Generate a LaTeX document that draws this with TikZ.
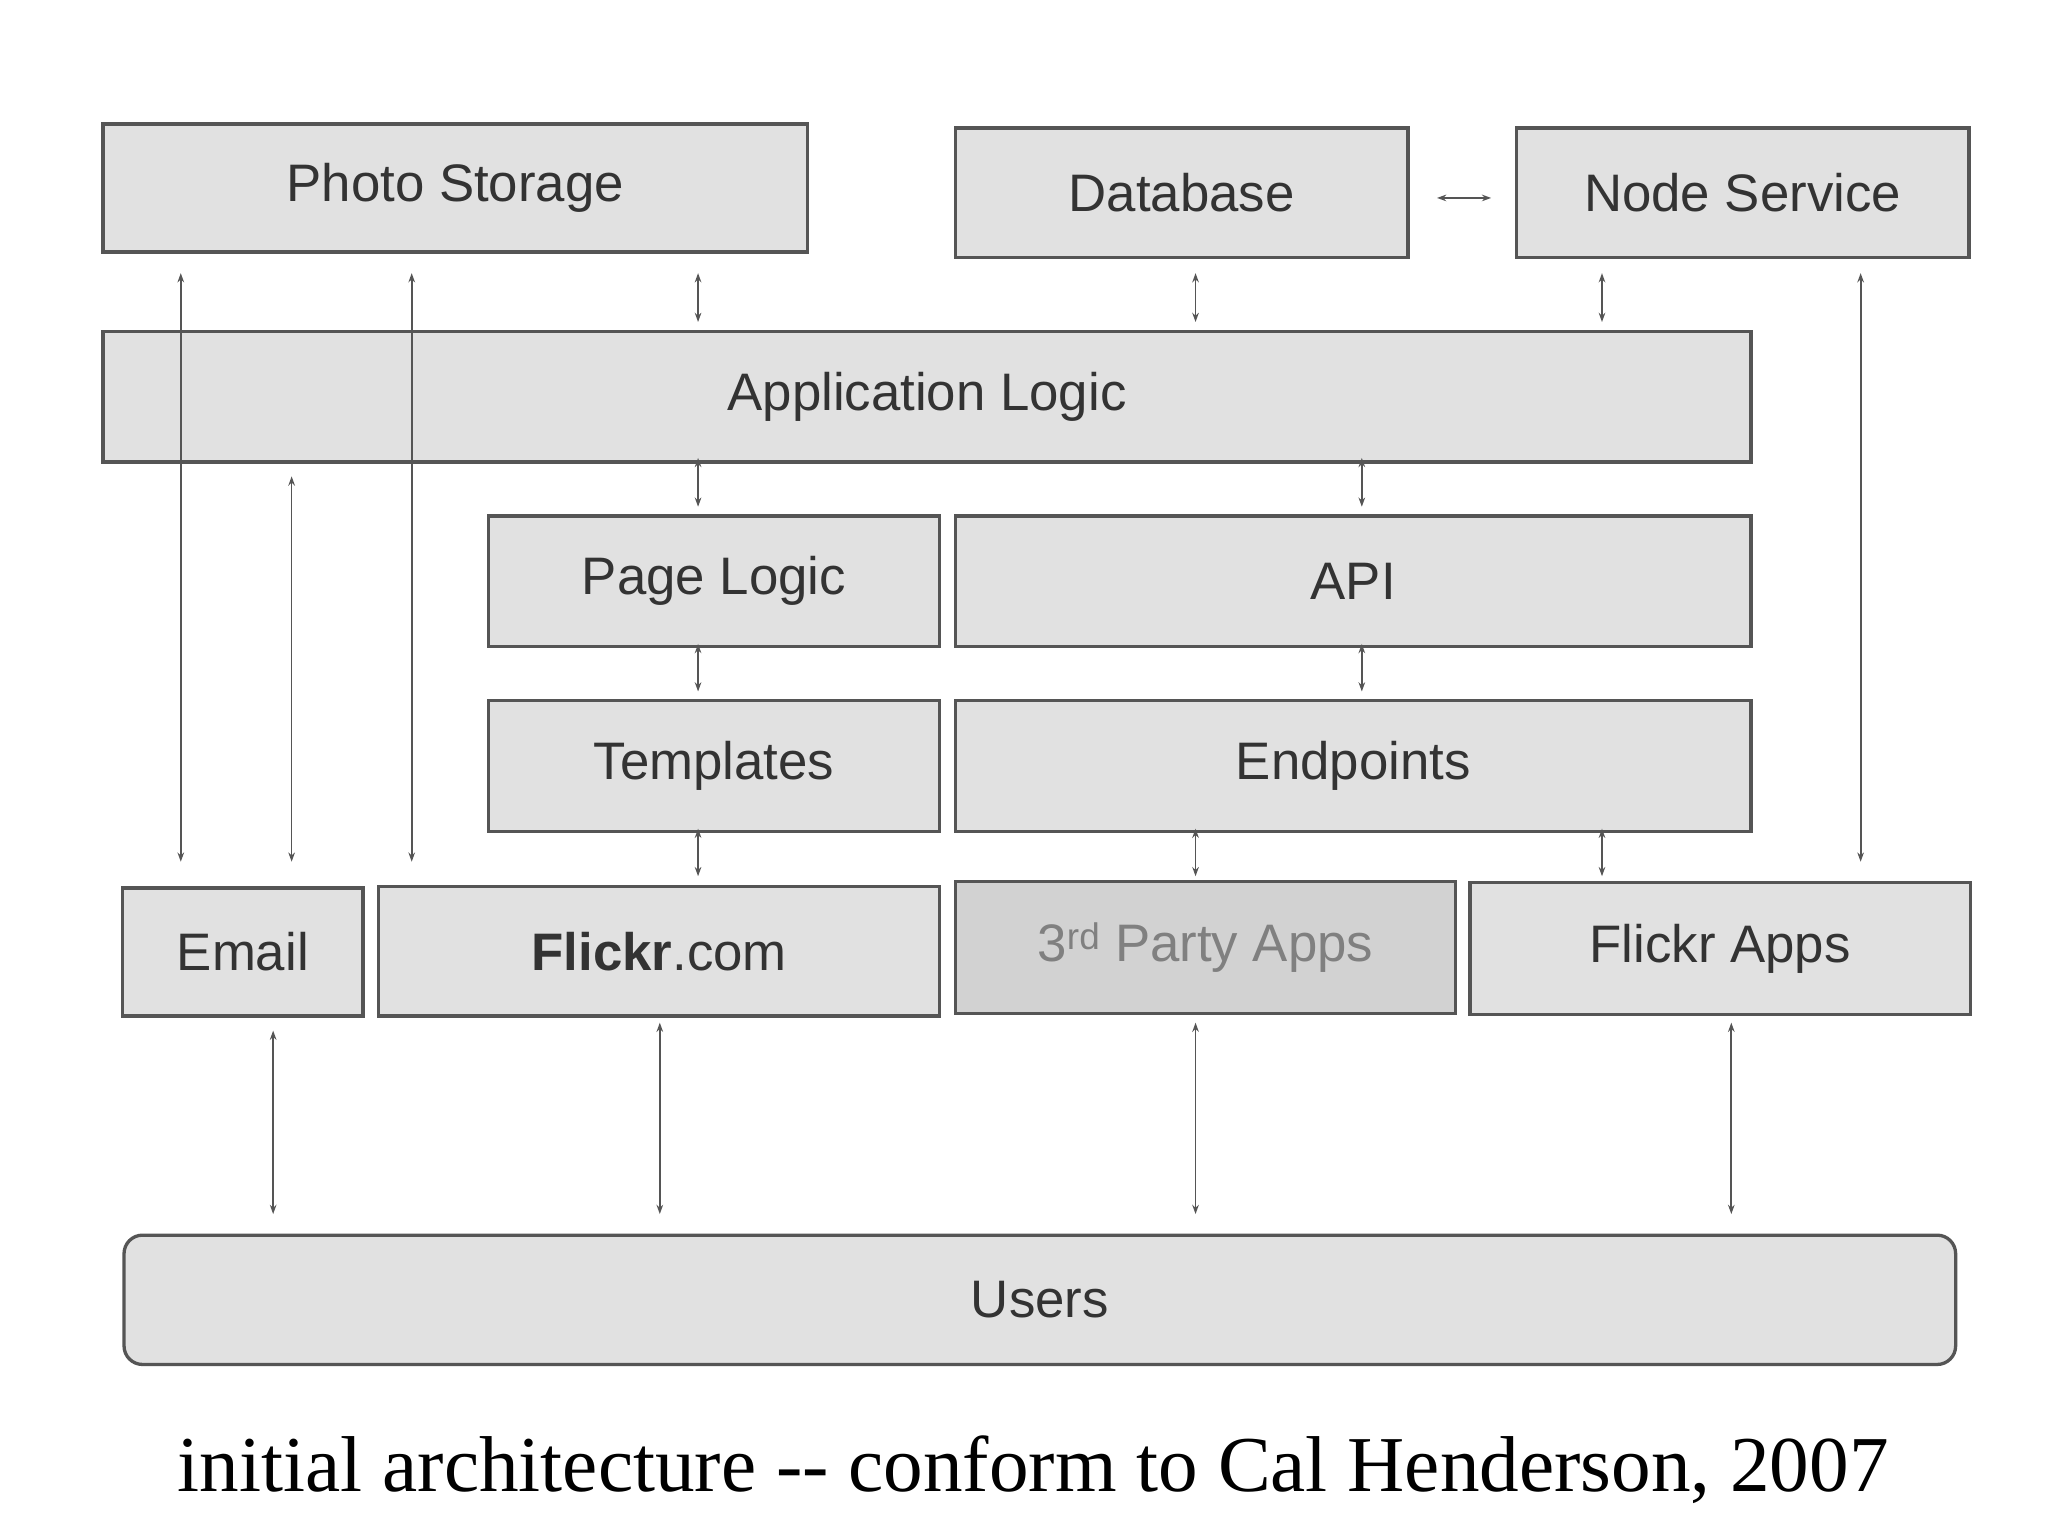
\documentclass[tikz,border=0pt]{standalone}
\usepackage{fontspec}
\setmainfont{Liberation Sans}
\newfontfamily\capfont{Liberation Serif}
\usetikzlibrary{arrows.meta}
\definecolor{bx}{HTML}{E1E1E1}
\definecolor{bxd}{HTML}{D2D2D2}
\definecolor{ln}{HTML}{555555}
\definecolor{tx}{HTML}{333333}
\begin{document}
\begin{tikzpicture}[x=1pt,y=-1pt,
  box/.style={draw=ln,fill=bx,line width=2.5pt,text=tx,font=\fontsize{40}{44}\selectfont},
  arr/.style={draw=ln,line width=1.3pt,{Stealth[length=7pt,width=5pt]}-{Stealth[length=7pt,width=5pt]}}]
\useasboundingbox[fill=white] (0,0) rectangle (1552,1164);
\newcommand\bx[6][]{\draw[box,#1] (#2,#3) rectangle (#4,#5) node[midway] {#6};}
\bx{78}{94}{612}{191}{Photo Storage}
\bx{724}{97}{1067}{195}{Database}
\bx{1149}{97}{1492}{195}{Node Service}
\bx{78}{251}{1327}{350}{Application Logic}
\bx{370}{391}{712}{490}{Page Logic}
\bx{724}{391}{1327}{490}{API}
\bx{370}{531}{712}{630}{Templates}
\bx{724}{531}{1327}{630}{Endpoints}
\bx{93}{673}{275}{770}{Email}
\bx{287}{672}{712}{770}{\textbf{Flickr}.com}
\bx[fill=bxd,text=gray]{724}{668}{1103}{768}{3\textsuperscript{rd} Party Apps}
\bx{1114}{669}{1493}{769}{Flickr Apps}
\draw[box,rounded corners=14pt] (94,936) rectangle (1482,1034) node[midway]{Users};
\foreach \x/\a/\b in {137/207/653,221/361/653,312/207/653,1410/207/653,
  529/207/244,529/347/384,529/488/524,529/628/664,
  906/207/244,906/628/664,1214/207/244,1214/628/664,
  1032/347/384,1032/488/524,
  207/781/920,500/775/920,906/775/920,1312/775/920}
  \draw[arr] (\x,\a) -- (\x,\b);
\draw[arr] (1089,150) -- (1130,150);
\node[font=\capfont\fontsize{60}{66}\selectfont,anchor=base] at (783,1130) {initial architecture -- conform to Cal Henderson, 2007};
\end{tikzpicture}
\end{document}
